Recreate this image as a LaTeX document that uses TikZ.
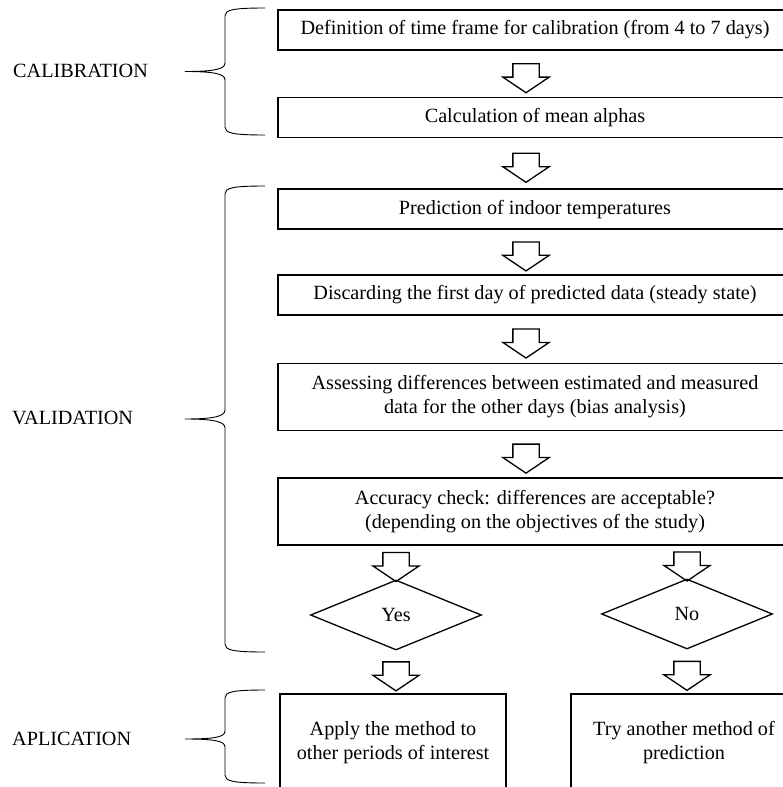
\documentclass[tikz,border=0pt]{standalone}
\usepackage{fontspec}
\setmainfont{Liberation Serif}
\usetikzlibrary{positioning, shapes.geometric, shapes.arrows, calc}

\begin{document}
\begin{tikzpicture}[
                x=1pt, y=-1pt,
                font=\fontsize{20.2}{24}\selectfont,
                node distance=46pt,
                box/.style={draw, line width=1.6pt, minimum width=514pt, minimum height=40pt, inner sep=0pt, align=center},
                tallbox/.style={box, minimum height=67pt},
                endbox/.style={box, minimum width=226pt, minimum height=98pt},
                choice/.style={diamond, draw, line width=1.3pt, minimum width=171pt, minimum height=70pt, inner sep=0pt, aspect=2.4},
                blockarr/.style={single arrow, draw, line width=1.3pt, shape border rotate=270, minimum height=29pt, inner xsep=12.5pt, inner ysep=0pt, single arrow head extend=10pt, single arrow tip angle=112},
                bracket/.style={line width=0.9pt},
                phase/.style={anchor=west, inner sep=0pt}
              ]
              \useasboundingbox (0,0) rectangle (783,787);

              % Steps
              \node[box] (b1) at (535,30) {Definition of time frame for calibration (from 4 to 7 days)};
              \node[box, below=46pt of b1] (b2) {Calculation of mean alphas};
              \node[box, below=50pt of b2] (b3) {Prediction of indoor temperatures};
              \node[box, below=44pt of b3] (b4) {Discarding the first day of predicted data (steady state)};
              \node[tallbox, below=47pt of b4] (b5) {Assessing differences between estimated and measured\\data for the other days (bias analysis)};
              \node[tallbox, below=46pt of b5] (b6) {Accuracy check: differences are acceptable?\\(depending on the objectives of the study)};

              % Decision
              \node[choice] (yes) at (396,615) {Yes};
              \node[choice] (no) at (687,614) {No};
              \node[endbox] (apply) at (393,743) {Apply the method to\\other periods of interest};
              \node[endbox] (retry) at (684,743) {Try another method of\\prediction};

              % Arrows
              \node[blockarr, xshift=-9pt] (a1) at ($(b1.south)!0.5!(b2.north)$) {};
              \node[blockarr, xshift=-9pt] (a2) at ($(b2.south)!0.5!(b3.north)$) {};
              \node[blockarr, xshift=-9pt] (a3) at ($(b3.south)!0.5!(b4.north)$) {};
              \node[blockarr, xshift=-9pt] (a4) at ($(b4.south)!0.5!(b5.north)$) {};
              \node[blockarr, xshift=-9pt] (a5) at ($(b5.south)!0.5!(b6.north)$) {};
              \node[blockarr] (ay1) at ($(b6.south -| yes)!0.5!(yes.north)$) {};
              \node[blockarr] (an1) at ($(b6.south -| no)!0.5!(no.north)$) {};
              \node[blockarr] (ay2) at ($(yes.south)!0.5!(apply.north -| yes)$) {};
              \node[blockarr] (an2) at ($(no.south)!0.5!(retry.north -| no)$) {};

              % Phases
              \node[phase] (cal) at (13,71) {CALIBRATION};
              \node[phase] (val) at (12,418) {VALIDATION};
              \node[phase] (apl) at (12,739) {APLICATION};
              \draw[bracket] (265,8) .. controls (232,8) and (225,10) .. (225,16) -- (225,63)
                .. controls (225,69) and (215,71.5) .. (185,71.5)
                .. controls (215,71.5) and (225,74) .. (225,80) -- (225,127)
                .. controls (225,133) and (232,135) .. (265,135);
              \draw[bracket] (265,186) .. controls (232,186) and (225,188) .. (225,194) -- (225,410)
                .. controls (225,416) and (215,419) .. (185,419)
                .. controls (215,419) and (225,422) .. (225,428) -- (225,644)
                .. controls (225,650) and (232,652) .. (265,652);
              \draw[bracket] (265,690) .. controls (232,690) and (225,692) .. (225,698) -- (225,731)
                .. controls (225,737) and (215,739) .. (185,739)
                .. controls (215,739) and (225,741) .. (225,747) -- (225,775)
                .. controls (225,781) and (232,783) .. (265,783);
\end{tikzpicture}
\end{document}
